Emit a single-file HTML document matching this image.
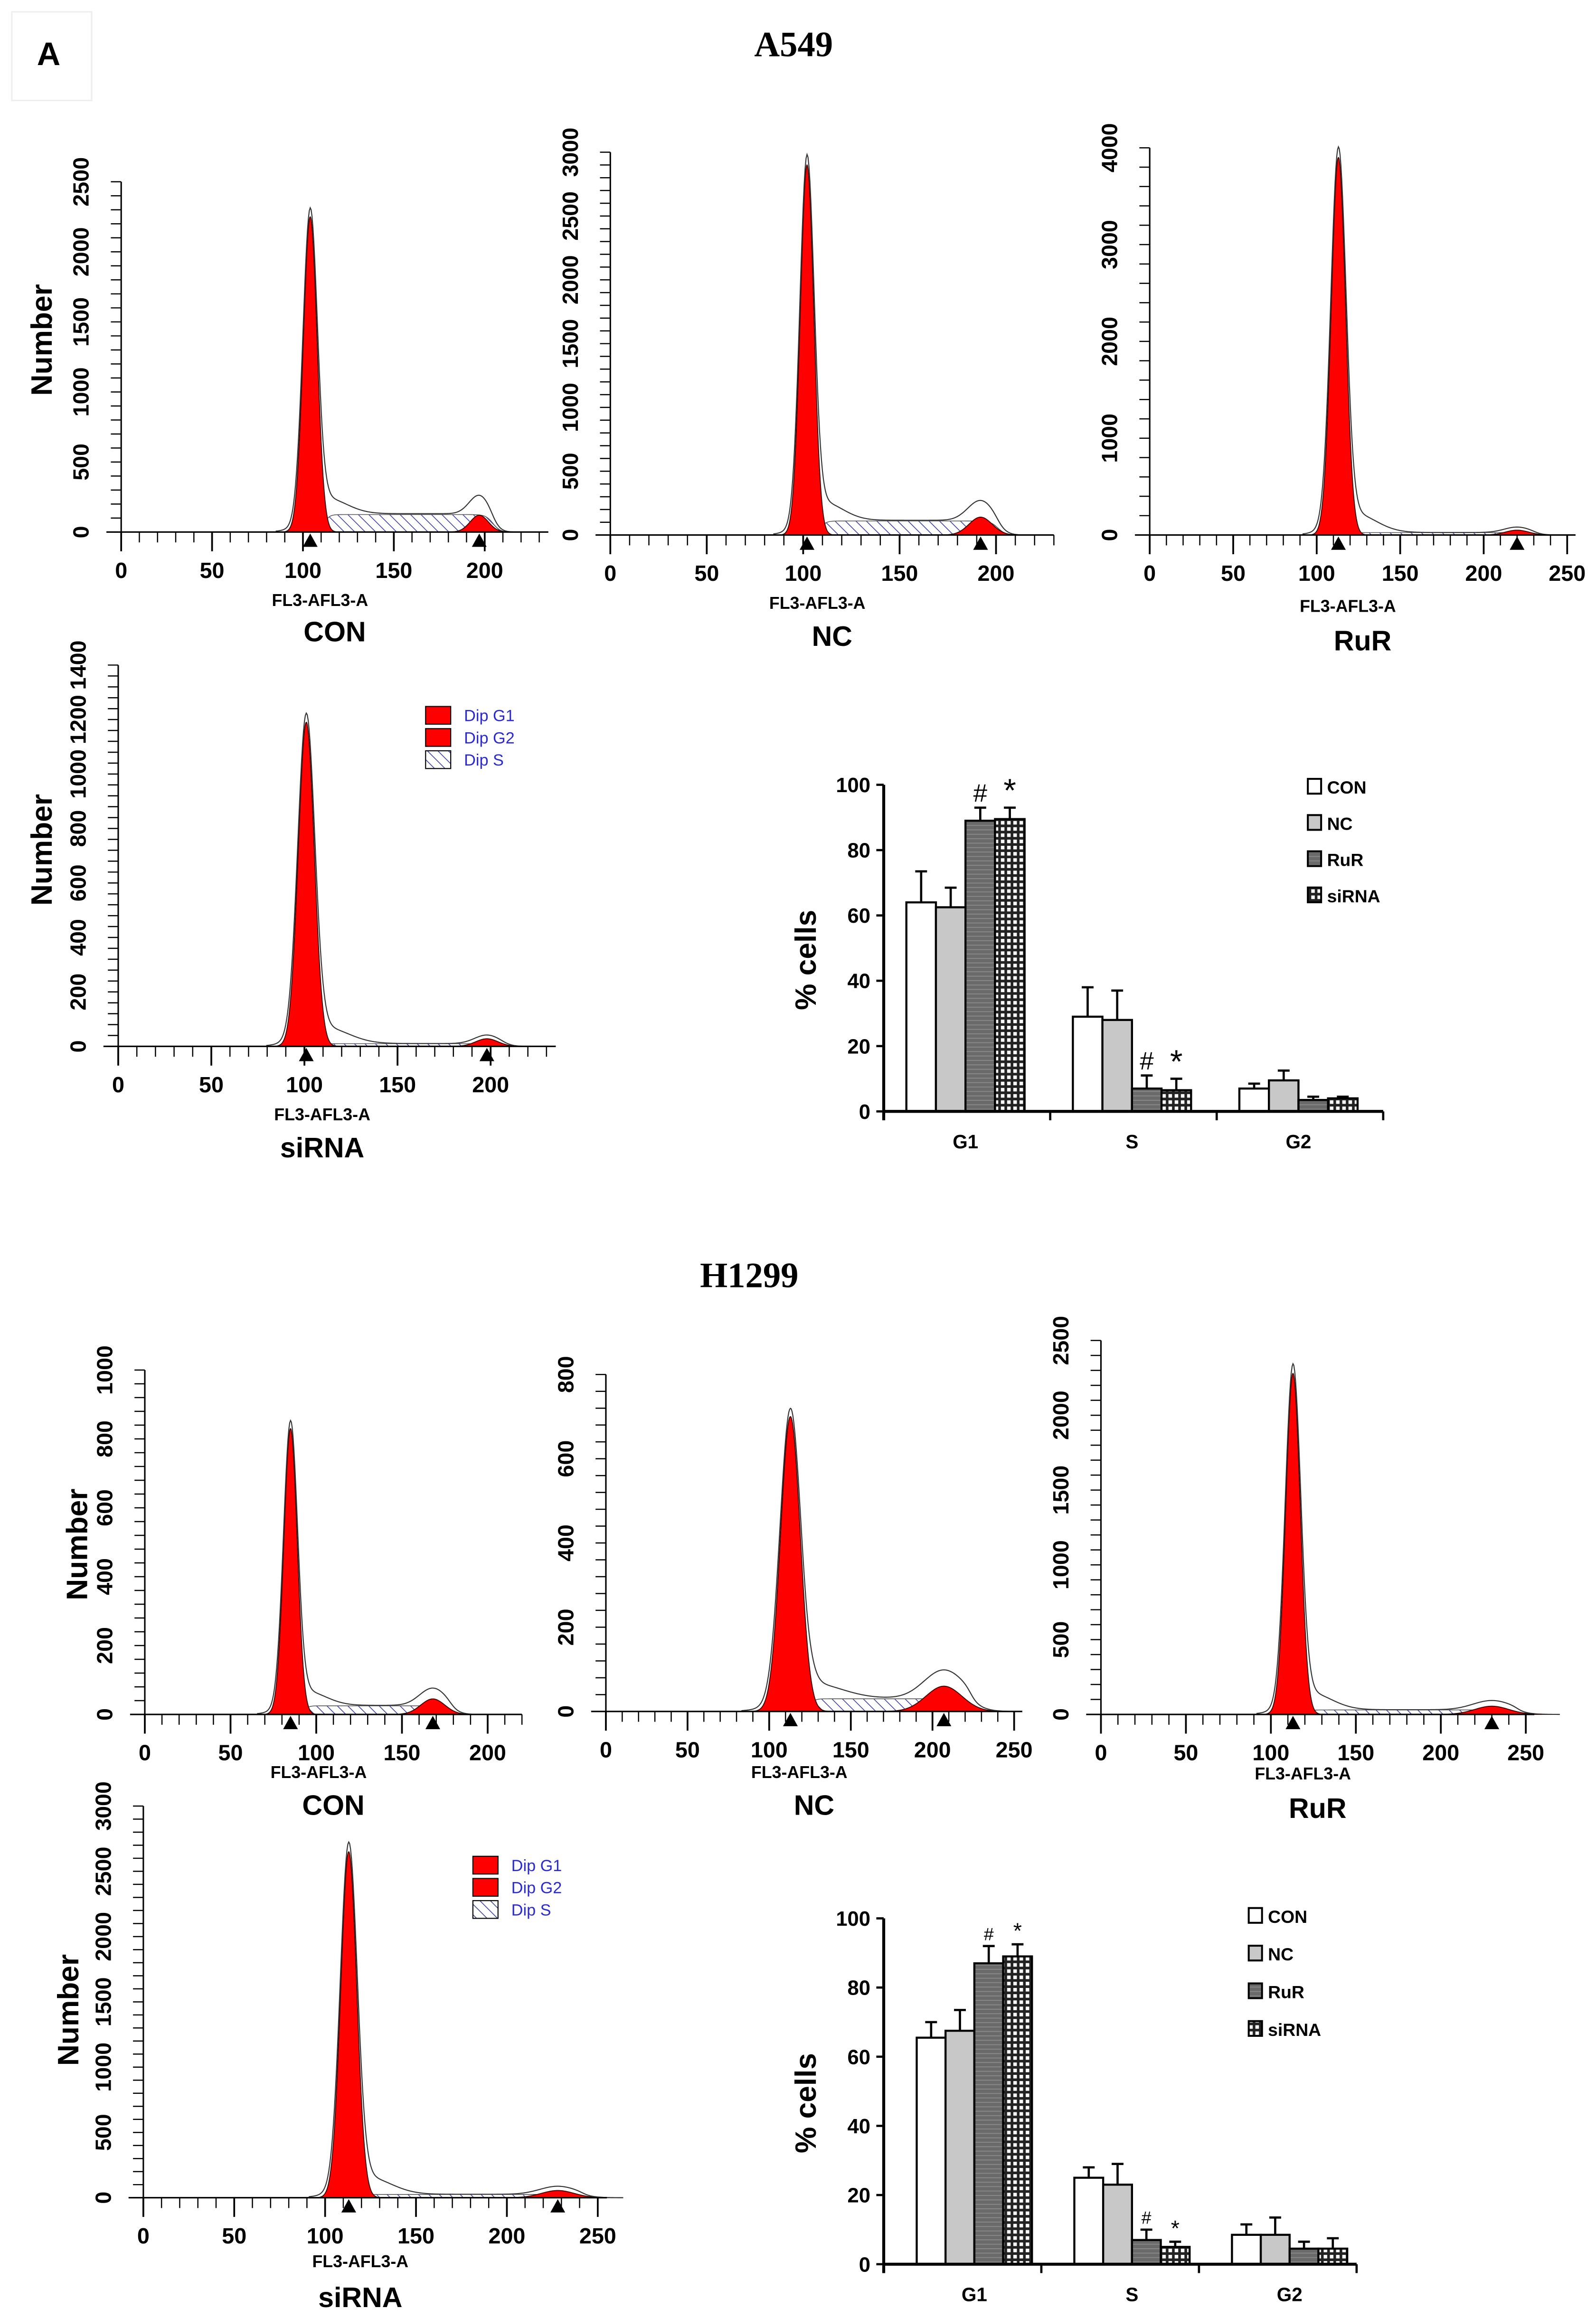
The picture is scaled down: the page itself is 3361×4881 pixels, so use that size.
<!DOCTYPE html>
<html><head><meta charset="utf-8">
<style>
html,body{margin:0;padding:0;background:#fff;}
svg{display:block;}
text{font-family:"Liberation Sans",sans-serif;}
</style></head>
<body>
<svg id="fig" xmlns="http://www.w3.org/2000/svg" width="3361" height="4881" viewBox="0 0 1080 1568.4" preserveAspectRatio="none">
<defs>
<pattern id="hatch" patternUnits="userSpaceOnUse" width="5" height="5" patternTransform="rotate(-45)">
<rect width="5" height="5" fill="#fff"/><line x1="0" y1="0" x2="0" y2="5" stroke="#3a3aa0" stroke-width="1"/>
</pattern>
<pattern id="hlines" patternUnits="userSpaceOnUse" width="4" height="3">
<rect width="4" height="3" fill="#6a6a6a"/><line x1="0" y1="0.5" x2="4" y2="0.5" stroke="#8a8a8a" stroke-width="0.6"/>
</pattern>
<pattern id="check" patternUnits="userSpaceOnUse" width="4.2" height="4.2">
<rect width="4.2" height="4.2" fill="#222"/><rect x="1.1" y="1.1" width="2.4" height="2.4" fill="#fff"/>
</pattern>
</defs>
<rect x="0" y="0" width="1080" height="1568.4" fill="#fff"/>
<rect x="8" y="8" width="54" height="60" fill="none" stroke="#eee" stroke-width="1"/>
<text x="25" y="44" font-size="22" font-weight="bold">A</text>
<text x="537" y="38" font-size="24" font-weight="bold" text-anchor="middle" style="font-family:'Liberation Serif',serif">A549</text>
<text x="507" y="871" font-size="24" font-weight="bold" text-anchor="middle" style="font-family:'Liberation Serif',serif">H1299</text>
<g id="root"></g>
</svg>
<script>
// ---- Histogram data (per panel) ----
const histNames = ["a549-con","a549-nc","a549-rur","a549-sirna","h1299-con","h1299-nc","h1299-rur","h1299-sirna"];
const histCaptions = ["CON","NC","RuR","siRNA","CON","NC","RuR","siRNA"];
const histYMax = [2500,3000,4000,1400,1000,800,2500,3000];
const histYStep = [500,500,1000,200,200,200,500,500];
const histXMax = [235,230,255,235,220,255,255,255];
const histXTickMax = [200,200,250,200,200,250,250,250];
const g1Mean = [104,102,113,101,85,113,113,113];
const g1Sd = [3.8,3.5,4.3,4.3,3.9,6,4.3,4.4];
const g1Height = [2250,2900,3900,1190,830,700,2280,2650];
const g2Mean = [197,192,220,198,168,207,230,228];
const g2Sd = [5,6,7,6,7,11,10,9];
const g2Height = [120,140,50,28,45,60,55,55];
const sLevel = [125,110,25,10,25,30,30,25];

// ---- Layout (pixel geometry, not data) ----
const L = [
 {x0:82,x200:328,y0:360,yTop:123,lx:28,ly:230,capY:434,flY:410},
 {x0:413,x200:674,y0:362,yTop:103,lx:null,capY:437,flY:412},
 {x0:778,x200:1004,y0:362,yTop:100,lx:null,capY:440,flY:414},
 {x0:80,x200:332,y0:708,yTop:450,lx:28,ly:575,capY:783,flY:758},
 {x0:98,x200:330,y0:1160,yTop:927,lx:52,ly:1045,capY:1228,flY:1203},
 {x0:410,x200:631,y0:1158,yTop:930,lx:null,capY:1228,flY:1203},
 {x0:745,x200:975,y0:1160,yTop:907,lx:null,capY:1230,flY:1204},
 {x0:97,x200:343,y0:1487,yTop:1222,lx:46,ly:1360,capY:1561,flY:1534}
];
const NS="http://www.w3.org/2000/svg";
const root=document.getElementById('root');
function mk(tag,attrs,parent){const e=document.createElementNS(NS,tag);for(const k in attrs)e.setAttribute(k,attrs[k]);(parent||root).appendChild(e);return e;}
function gauss(x,m,s,h){return h*Math.exp(-0.5*((x-m)/s)**2);}

for(let i=0;i<histNames.length;i++){
  const g=mk('g',{});
  
  
  const p=L[i];
  const xs=(p.x200-p.x0)/200;
  const X=v=>p.x0+v*xs;
  const Y=v=>p.y0-(v/histYMax[i])*(p.y0-p.yTop);
  const sFn=x=>{const a=1/(1+Math.exp(-(x-(g1Mean[i]+2*g1Sd[i]))/1.5));const b=1/(1+Math.exp((x-(g2Mean[i]+1.5*g2Sd[i]))/2));return sLevel[i]*a*b;};
  let d='M'+X(g1Mean[i])+','+p.y0;
  for(let x=g1Mean[i];x<=g2Mean[i]+3*g2Sd[i];x+=0.5)d+=' L'+X(x).toFixed(2)+','+Y(sFn(x)).toFixed(2);
  d+=' L'+X(g2Mean[i]+3*g2Sd[i])+','+p.y0+' Z';
  const sp=mk('path',{d:d,fill:'url(#hatch)',stroke:'#555','stroke-width':0.5},g);
  
  
  [[g1Mean[i],g1Sd[i],g1Height[i],'g1-peak'],[g2Mean[i],g2Sd[i],g2Height[i],'g2-peak']].forEach(q=>{
    let pd='M'+X(q[0]-4*q[1])+','+p.y0;
    for(let x=q[0]-4*q[1];x<=q[0]+4*q[1];x+=0.25)pd+=' L'+X(x).toFixed(2)+','+Y(gauss(x,q[0],q[1],q[2])).toFixed(2);
    pd+=' Z';
    const e=mk('path',{d:pd,fill:'#f00',stroke:'#300','stroke-width':0.6},g);
    
    
  });
  let od='';
  const xa=g1Mean[i]-5*g1Sd[i], xb=g2Mean[i]+4*g2Sd[i];
  for(let x=xa;x<=xb;x+=0.5){
    const v=gauss(x,g1Mean[i],g1Sd[i]*1.06,g1Height[i]*0.99)+sFn(x)*1.05+gauss(x,g2Mean[i],g2Sd[i]*1.1,g2Height[i]*1.12)+gauss(x,g1Mean[i]+2.2*g1Sd[i],3*g1Sd[i],g1Height[i]*0.05);
    od+=(od?' L':'M')+X(x).toFixed(2)+','+Y(v).toFixed(2);
  }
  const ol=mk('path',{d:od,fill:'none',stroke:'#333','stroke-width':0.7},g);
  
  
  const xax=mk('line',{x1:p.x0-10,y1:p.y0,x2:X(histXMax[i]),y2:p.y0,stroke:'#000','stroke-width':1},g);
  
  
  const yax=mk('line',{x1:p.x0,y1:p.y0,x2:p.x0,y2:p.yTop,stroke:'#000','stroke-width':1},g);
  
  
  for(let v=0;v<=histXMax[i];v+=10){
    const big=v%50===0;
    mk('line',{x1:X(v),y1:p.y0,x2:X(v),y2:p.y0+(big?13:7),stroke:'#000','stroke-width':big?1.2:0.8},g);
    if(big&&v<=histXTickMax[i]){
      const t=mk('text',{x:X(v),y:p.y0+31,'font-size':15,'font-weight':'bold','text-anchor':'middle'},g);
      t.textContent=v;
      
      
    }
  }
  const minor=histYStep[i]/5;
  for(let v=0;v<=histYMax[i]+0.01;v+=minor){
    mk('line',{x1:p.x0-7,y1:Y(v),x2:p.x0,y2:Y(v),stroke:'#000','stroke-width':0.8},g);
  }
  for(let v=0;v<=histYMax[i];v+=histYStep[i]){
    const t=mk('text',{x:0,y:0,'font-size':15,'font-weight':'bold','text-anchor':'middle',transform:`translate(${p.x0-22},${Y(v)}) rotate(-90)`},g);
    t.textContent=v;
    
    
  }
  [g1Mean[i],g2Mean[i]].forEach(m=>{
    const tr=mk('path',{d:`M${X(m)-5},${p.y0+10} L${X(m)+5},${p.y0+10} L${X(m)},${p.y0+1} Z`,fill:'#000'},g);
    
    
  });
  const fl=mk('text',{x:(p.x0+X(histXMax[i]))/2-10,y:p.flY,'font-size':11.5,'font-weight':'bold','text-anchor':'middle'},g);
  fl.textContent='FL3-AFL3-A';
  
  
  const cp=mk('text',{x:(p.x0+X(histXMax[i]))/2+(i===3||i===7?-10:0),y:p.capY,'font-size':19,'font-weight':'bold','text-anchor':'middle'},g);
  cp.textContent=histCaptions[i];
  
  
  if(p.lx){
    const nl=mk('text',{x:0,y:0,'font-size':20,'font-weight':'bold','text-anchor':'middle',transform:`translate(${p.lx+7},${p.ly}) rotate(-90)`},g);
    nl.textContent='Number';
    
    
  }
}

[[288,478],[320,1256]].forEach((pos,k)=>{
  const g=mk('g',{});
  
  
  [['Dip G1','#f00'],['Dip G2','#f00'],['Dip S','url(#hatch)']].forEach((it,j)=>{
    const y=pos[1]+j*15;
    mk('rect',{x:pos[0],y:y,width:17,height:12,fill:it[1],stroke:'#000','stroke-width':0.7},g);
    const t=mk('text',{x:pos[0]+26,y:y+10,'font-size':11,fill:'#2a2ad0'},g);
    t.textContent=it[0];
    
    
  });
});

// ---- Bar chart data ----
const phases = ["G1","S","G2"];
const seriesNames = ["CON","NC","RuR","siRNA"];
const a549Values = [[64,29,7],[62.5,28,9.5],[89,7,3.5],[89.5,6.5,4]];
const a549Errors = [[9.5,9,1.5],[6,9,3],[4,4,1],[3.5,3.5,0.5]];
const h1299Values = [[65.5,25,8.5],[67.5,23,8.5],[87,7,4.5],[89,5,4.5]];
const h1299Errors = [[4.5,3,3],[6,6,5],[5,3,2],[3.5,1.5,3]];
const yTicks = [0,20,40,60,80,100];
const fills=['#fff','#c8c8c8','url(#hlines)','url(#check)'];

function barChart(name,vals,errs,geo){
  const g=mk('g',{});
  
  
  const Y=v=>geo.y0-v/100*(geo.y0-geo.y100);
  const gw=(geo.xEnd-geo.x0)/3;
  const bw=geo.bw;
  phases.forEach((ph,pi)=>{
    const cx=geo.x0+gw*(pi+0.5)+geo.shift;
    seriesNames.forEach((s,si)=>{
      const x=cx-2*bw+si*bw;
      const v=vals[si][pi], e=errs[si][pi];
      const top=Y(v+e);
      const el=mk('line',{x1:x+bw/2,y1:Y(v),x2:x+bw/2,y2:top,stroke:'#000','stroke-width':1.5},g);
      
      
      mk('line',{x1:x+bw/2-4,y1:top,x2:x+bw/2+4,y2:top,stroke:'#000','stroke-width':1.5},g);
      const r=mk('rect',{x:x,y:Y(v),width:bw,height:geo.y0-Y(v),fill:fills[si],stroke:'#000','stroke-width':1.4},g);
      
      
      if(pi<2&&si>=2){
        const m=mk('text',{x:x+bw/2,y:top-4,'font-size':si===3?(geo.small?15:22):(geo.small?12:17),'text-anchor':'middle'},g);
        m.textContent=si===2?'#':'*';
        
        
      }
    });
    const t=mk('text',{x:cx,y:geo.y0+25,'font-size':13,'font-weight':'bold','text-anchor':'middle'},g);
    t.textContent=ph;
    
    
  });
  const xa=mk('line',{x1:geo.x0,y1:geo.y0,x2:geo.xEnd,y2:geo.y0,stroke:'#000','stroke-width':2},g);
  
  
  for(let k=0;k<=3;k++)mk('line',{x1:geo.x0+gw*k,y1:geo.y0,x2:geo.x0+gw*k,y2:geo.y0+6,stroke:'#000','stroke-width':1.5},g);
  const ya=mk('line',{x1:geo.x0,y1:geo.y0+6,x2:geo.x0,y2:geo.y100,stroke:'#000','stroke-width':2},g);
  
  
  yTicks.forEach(v=>{
    mk('line',{x1:geo.x0-5,y1:Y(v),x2:geo.x0,y2:Y(v),stroke:'#000','stroke-width':1.5},g);
    const t=mk('text',{x:geo.x0-9,y:Y(v)+5,'font-size':14,'font-weight':'bold','text-anchor':'end'},g);
    t.textContent=v;
    
    
  });
  const yt=mk('text',{x:0,y:0,'font-size':20,'font-weight':'bold','text-anchor':'middle',transform:`translate(${geo.x0-46},${(geo.y0+geo.y100)/2+8}) rotate(-90)`},g);
  yt.textContent='% cells';
  
  
  seriesNames.forEach((s,si)=>{
    const y=geo.legY+si*geo.legStep;
    mk('rect',{x:geo.legX,y:y-5,width:9,height:10,fill:fills[si],stroke:'#000','stroke-width':1.3},g);
    const t=mk('text',{x:geo.legX+13,y:y+5,'font-size':12,'font-weight':'bold'},g);
    t.textContent=s;
    
    
  });
}
barChart('bar-chart-a549',a549Values,a549Errors,{x0:598,xEnd:936,y0:752,y100:531,bw:20,shift:-1,legX:885,legY:532,legStep:24.5,small:false});
barChart('bar-chart-h1299',h1299Values,h1299Errors,{x0:598,xEnd:918,y0:1532,y100:1298,bw:19.5,shift:8,legX:845,legY:1296,legStep:25.5,small:true});
</script>
</body></html>
